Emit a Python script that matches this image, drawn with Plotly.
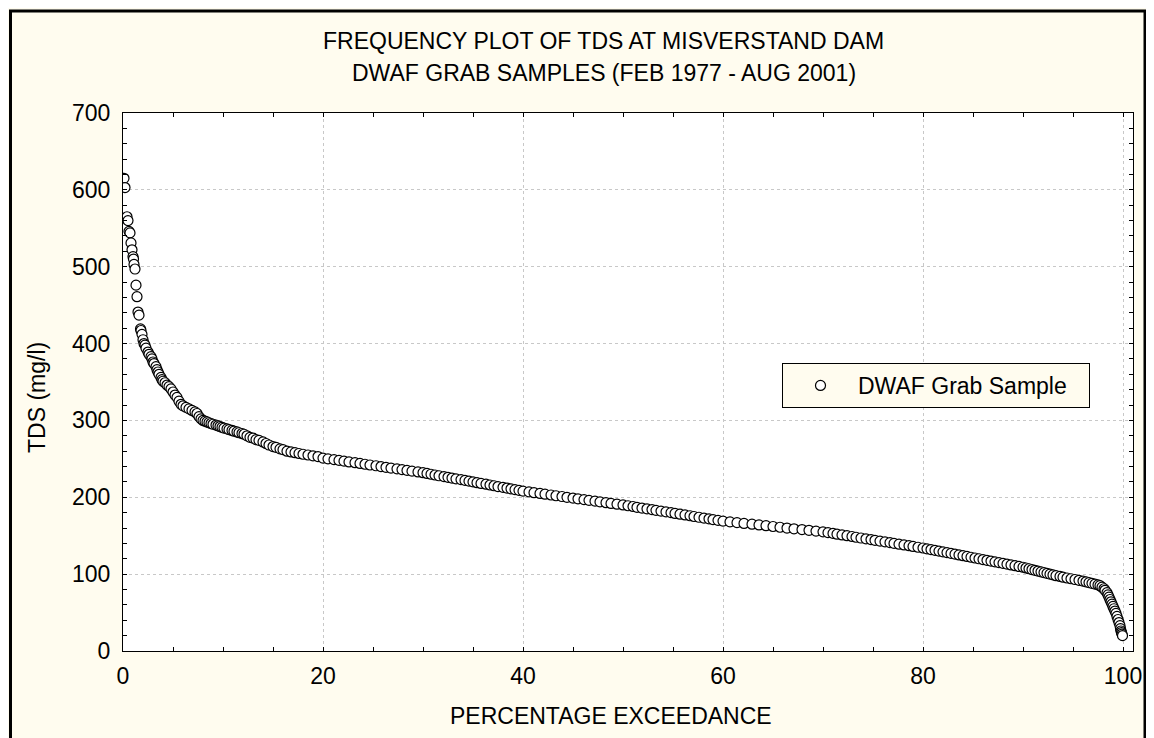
import plotly.graph_objects as go

# ---------------- data ----------------
head_pct = [0.1, 0.2, 0.4, 0.5, 0.6, 0.7, 0.8, 0.9, 1.0, 1.05,
            1.1, 1.2, 1.3, 1.4, 1.5, 1.6, 1.75, 1.8, 1.9, 2.0,
            2.1, 2.2, 2.3, 2.5, 2.6, 2.8, 2.9, 3.0, 3.1, 3.3,
            3.4, 3.5, 3.6, 3.8, 3.9]
head_tds = [615, 603, 565, 560, 546, 544, 531, 522, 513, 510,
            503, 497, 476, 461, 441, 437, 419, 417, 412, 405,
            400, 398, 394, 389, 386, 383, 380, 376, 374, 370,
            366, 363, 360, 356, 353]

upper_pct = [4.0, 4.2, 4.4, 4.6, 4.8, 5.0, 5.2, 5.4, 5.6, 5.8,
             6.0, 6.3, 6.6, 6.9, 7.2, 7.4, 7.6, 7.8, 8.0, 8.2,
             8.4, 8.6, 8.8, 9.0, 9.3, 9.5, 9.7, 9.9, 10.1, 10.4,
             10.6, 10.9, 11.1, 11.4, 11.6, 11.9, 12.1, 12.4, 12.7, 13.0,
             13.3, 13.6, 14.0, 14.3, 14.6, 15.0, 15.3, 15.7, 16.0, 16.4,
             16.8, 17.2, 17.6, 18.0, 18.5, 19.0, 19.5, 20.0]
upper_tds = [351, 349, 346, 344, 341, 337, 333, 330, 325, 321,
             319, 317, 315, 313, 311, 309, 305, 302, 300, 299,
             298, 297, 296, 295, 294, 293, 292, 291, 290, 289,
             288, 287, 286, 285, 284, 283, 282, 280, 278, 277,
             275, 274, 272, 270, 268, 266, 265, 263, 262, 260,
             259, 258, 257, 256, 255, 254, 253, 251]

mid_pct = [20.5, 21.1, 21.6, 22.1, 22.6, 23.2, 23.7, 24.2, 24.7, 25.3,
           25.8, 26.3, 26.8, 27.4, 27.9, 28.4, 28.9, 29.5, 30.0,
           30.4, 30.8, 31.2, 31.6, 32.1, 32.5, 32.9, 33.3, 33.8, 34.2,
           34.6, 35.0, 35.4, 35.8, 36.3, 36.7, 37.1, 37.5, 38.0, 38.4,
           38.8, 39.2, 39.6, 40.0,
           40.6, 41.1, 41.7, 42.2, 42.8, 43.3, 43.9, 44.4, 45.0, 45.5,
           46.1, 46.6, 47.2, 47.7, 48.3, 48.8, 49.4, 50.0,
           50.5, 51.0, 51.4, 51.9, 52.4, 52.9, 53.3, 53.8, 54.3, 54.8,
           55.2, 55.7, 56.2, 56.7, 57.1, 57.6, 58.1, 58.6, 59.0, 59.5, 60.0]
mid_tds = [250, 249, 248, 247, 246, 245, 244, 243, 242, 241,
           240, 239, 238, 237, 236, 235, 234, 233, 232,
           231, 230, 229, 228, 227, 226, 225, 224, 223, 222,
           221, 220, 219, 218, 217, 216, 215, 214, 213, 212,
           211, 210, 209, 208,
           207, 206, 205, 204, 203, 202, 201, 200, 199, 198,
           197, 196, 195, 194, 193, 192, 191, 190,
           189, 188, 187, 186, 185, 184, 183, 182, 181, 180,
           179, 178, 177, 176, 175, 174, 173, 172, 171, 170, 169]

lower_pct = [60.7, 61.4, 62.1, 62.9, 63.6, 64.3, 65.0, 65.7, 66.4, 67.1,
             67.9, 68.6, 69.3, 70.0,
             70.5, 71.0, 71.4, 71.9, 72.4, 72.9, 73.3, 73.8, 74.3, 74.8,
             75.2, 75.7, 76.2, 76.7, 77.1, 77.6, 78.1, 78.6, 79.0, 79.5, 80.0,
             80.4, 80.8, 81.2, 81.6, 82.0, 82.4, 82.8, 83.2, 83.6, 84.0,
             84.4, 84.8, 85.2, 85.6, 86.0, 86.4, 86.8, 87.2, 87.6, 88.0,
             88.4, 88.8, 89.2, 89.6, 90.0]
lower_tds = [168, 167, 166, 165, 164, 163, 162, 161, 160, 159,
             158, 157, 156, 155,
             154, 153, 152, 151, 150, 149, 148, 147, 146, 145,
             144, 143, 142, 141, 140, 139, 138, 137, 136, 135, 134,
             133, 132, 131, 130, 129, 128, 127, 126, 125, 124,
             123, 122, 121, 120, 119, 118, 117, 116, 115, 114,
             113, 112, 111, 110, 109]

tail_pct = [90.3, 90.6, 90.9, 91.2, 91.5, 91.8, 92.1, 92.4, 92.7, 93.0,
            93.3, 93.7, 94.0, 94.4, 94.8, 95.2, 95.6, 96.0, 96.3, 96.6,
            96.9, 97.2, 97.5, 97.7, 97.9, 98.1, 98.2, 98.4, 98.5, 98.6,
            98.7, 98.8, 98.9, 99.0, 99.1, 99.2, 99.3, 99.4, 99.5, 99.6,
            99.7, 99.75, 99.8, 99.85, 99.9, 99.95]
tail_tds = [108, 107, 106, 105, 104, 103, 102, 101, 100, 99,
            98, 97, 96, 95, 94, 93, 92, 91, 90, 89,
            88, 87, 86, 85, 83, 81, 79, 76, 73, 70,
            67, 64, 61, 58, 55, 52, 49, 45, 41, 37,
            33, 29, 26, 24, 22, 20]

exceedance = head_pct + upper_pct + mid_pct + lower_pct + tail_pct
tds = head_tds + upper_tds + mid_tds + lower_tds + tail_tds
assert len(exceedance) == len(tds)

title_lines = ["FREQUENCY PLOT OF TDS AT MISVERSTAND DAM",
               "DWAF GRAB SAMPLES (FEB 1977 - AUG 2001)"]
x_title = "PERCENTAGE EXCEEDANCE"
y_title = "TDS (mg/l)"
series_name = "DWAF Grab Sample"

# ---------------- layout helpers ----------------
OFF = 8                      # default page margin of the html body
W, H = 1154 - OFF, 738 - OFF
ML, MT = 123 - OFF, 113 - OFF
PW, PH = 1010, 538
MR = W - ML - PW
MB = H - MT - PH


def fx(px):                  # page x pixel -> paper coordinate
    return (px - OFF - ML) / PW


def fy(py):                  # page y pixel -> paper coordinate
    return (MT + PH - (py - OFF)) / PH


FONT = "Liberation Sans, Arial, Helvetica, sans-serif"
CREAM = "#FFFCEF"
FS = 23

fig = go.Figure()
fig.add_trace(go.Scatter(
    x=exceedance, y=tds, mode="markers", name=series_name,
    marker=dict(symbol="circle", size=10, color="white",
                line=dict(color="black", width=1.2)),
    showlegend=True,
))

axis_common = dict(
    showline=True, linecolor="black", linewidth=1, mirror="ticks",
    ticks="inside", ticklen=4, tickcolor="black", tickwidth=1,
    showgrid=True, gridcolor="#c8c8c8", griddash="dot", gridwidth=1,
    zeroline=False, tickfont=dict(family=FONT, size=FS, color="black"),
)

fig.update_xaxes(range=[0, 101], tick0=0, dtick=20,
                 minor=dict(dtick=5, ticks="inside", ticklen=4, tickcolor="black", showgrid=False),
                 ticklabelstandoff=4, **axis_common)
fig.update_yaxes(range=[0, 700], tick0=0, dtick=100,
                 minor=dict(dtick=20, ticks="inside", ticklen=4, tickcolor="black", showgrid=False),
                 ticklabelstandoff=7, **axis_common)

annots = [
    dict(text=title_lines[0], x=fx(603), y=fy(41)),
    dict(text=title_lines[1], x=fx(604), y=fy(73)),
    dict(text=x_title, x=fx(611), y=fy(716)),
    dict(text=y_title, x=fx(37), y=fy(398), textangle=-90),
]
for a in annots:
    fig.add_annotation(xref="paper", yref="paper", xanchor="center", yanchor="middle",
                       showarrow=False, font=dict(family=FONT, size=FS, color="black"), **a)

fig.add_shape(type="rect", xref="paper", yref="paper",
              x0=fx(10.5), x1=fx(1145), y0=fy(760), y1=fy(11),
              line=dict(color="black", width=3), fillcolor="rgba(0,0,0,0)", layer="above")

fig.update_layout(
    width=W, height=H,
    margin=dict(l=ML, r=MR, t=MT, b=MB, pad=0),
    paper_bgcolor=CREAM, plot_bgcolor="white",
    font=dict(family=FONT, size=FS, color="black"),
    legend=dict(orientation="h", x=fx(782), y=fy(363), xanchor="left", yanchor="top",
                bgcolor=CREAM, bordercolor="black", borderwidth=1,
                itemwidth=65, entrywidth=226, entrywidthmode="pixels",
                font=dict(family=FONT, size=FS, color="black")),
    showlegend=True,
)

fig.write_html("out.html")
